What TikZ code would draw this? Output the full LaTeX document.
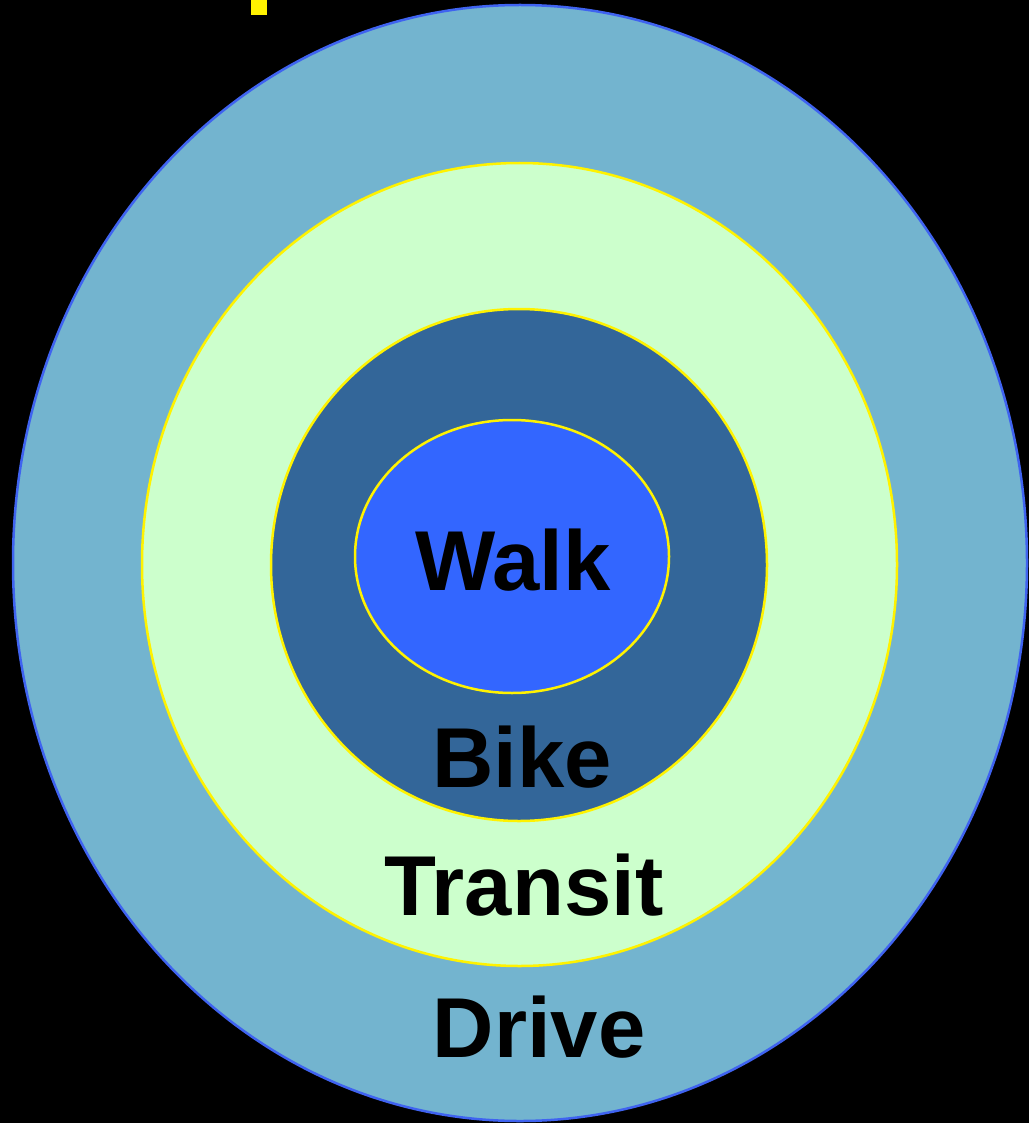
\documentclass[tikz,border=0pt]{standalone}
\usepackage{fontspec}
\setmainfont{Liberation Sans}
\usetikzlibrary{shapes.geometric}

\definecolor{driveblue}{HTML}{73B4CF}
\definecolor{transitgreen}{HTML}{CCFFCC}
\definecolor{bikeblue}{HTML}{336699}
\definecolor{walkblue}{HTML}{3366FF}
\definecolor{rimblue}{HTML}{3F63F0}

\tikzset{
  ring/.style={ellipse, inner sep=0pt, line width=2.5pt, draw=yellow},
  modelabel/.style={anchor=base, inner sep=0pt, font=\bfseries\fontsize{85}{90}\selectfont}
}

\begin{document}
\begin{tikzpicture}[x=1pt,y=-1pt]
  % background
  \fill[black] (0,0) rectangle (1029,1123);
  \useasboundingbox (0,0) rectangle (1029,1123);
  \fill[yellow] (251,0) rectangle (267,15);
  % rings, outside in
  \node[ring, draw=rimblue, fill=driveblue, minimum width=1014pt, minimum height=1116pt] (drive) at (520,563) {};
  \node[ring, fill=transitgreen, minimum width=755pt, minimum height=803pt] (transit) at (519.5,564.5) {};
  \node[ring, fill=bikeblue, minimum width=496pt, minimum height=512pt] (bike) at (519,565) {};
  \node[ring, fill=walkblue, minimum width=314pt, minimum height=273pt] (walk) at (512,556.5) {};
  % labels
  \node[modelabel] (walklbl) at (513,590) {Walk};
  \node[modelabel] (bikelbl) at (522,787) {Bike};
  \node[modelabel] (transitlbl) at (524,915) {Transit};
  \node[modelabel] (drivelbl) at (539,1057) {Drive};
\end{tikzpicture}
\end{document}
